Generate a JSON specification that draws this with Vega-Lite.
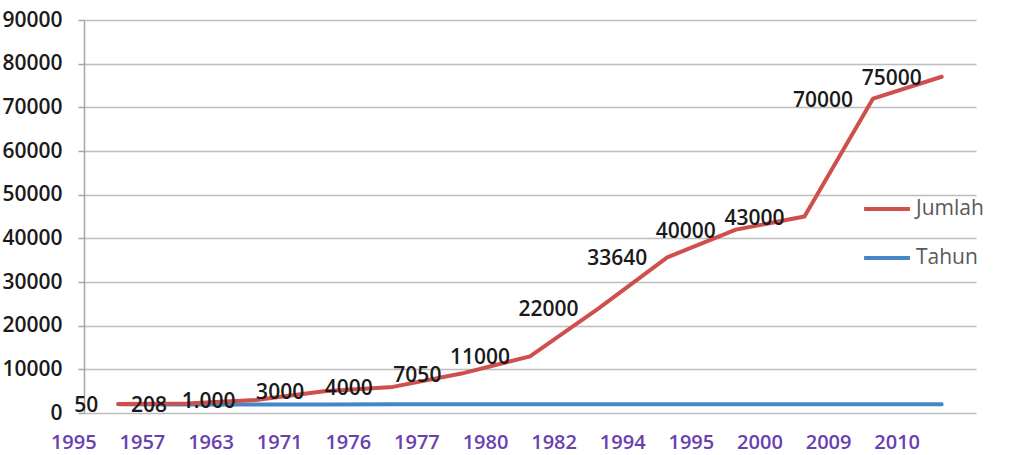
{
  "$schema": "https://vega.github.io/schema/vega-lite/v6.json",
  "width": 892,
  "height": 393,
  "autosize": "none",
  "padding": {"left": 84, "top": 20, "right": 36, "bottom": 42},
  "background": "white",
  "config": {"view": {"stroke": null}},
  "data": {
    "values": [
      {"Kategori": "1995", "Tahun": 1995, "Jumlah": 50, "Label": "50"},
      {"Kategori": "1957", "Tahun": 1957, "Jumlah": 208, "Label": "208"},
      {"Kategori": "1963", "Tahun": 1963, "Jumlah": 1000, "Label": "1.000"},
      {"Kategori": "1971", "Tahun": 1971, "Jumlah": 3000, "Label": "3000"},
      {"Kategori": "1976", "Tahun": 1976, "Jumlah": 4000, "Label": "4000"},
      {"Kategori": "1977", "Tahun": 1977, "Jumlah": 7050, "Label": "7050"},
      {"Kategori": "1980", "Tahun": 1980, "Jumlah": 11000, "Label": "11000"},
      {"Kategori": "1982", "Tahun": 1982, "Jumlah": 22000, "Label": "22000"},
      {"Kategori": "1994", "Tahun": 1994, "Jumlah": 33640, "Label": "33640"},
      {"Kategori": "1995 ", "Tahun": 1995, "Jumlah": 40000, "Label": "40000"},
      {"Kategori": "2000", "Tahun": 2000, "Jumlah": 43000, "Label": "43000"},
      {"Kategori": "2009", "Tahun": 2009, "Jumlah": 70000, "Label": "70000"},
      {"Kategori": "2010", "Tahun": 2010, "Jumlah": 75000, "Label": "75000"}
    ]
  },
  "transform": [
    {"fold": ["Tahun", "Jumlah"], "as": ["Seri", "Nilai"]},
    {"stack": "Nilai", "groupby": ["Kategori"], "sort": [{"field": "Seri", "order": "descending"}], "as": ["y0", "y1"]}
  ],
  "encoding": {
    "x": {
      "field": "Kategori",
      "type": "ordinal",
      "sort": null,
      "axis": {
        "title": null,
        "labelAngle": 0,
        "ticks": false,
        "domain": false,
        "grid": false,
        "labelOffset": -45,
        "labelPadding": 19,
        "labelColor": "#6a40b0",
        "labelFont": "Open Sans",
        "labelFontSize": 20,
        "labelFontWeight": 600,
        "labelBaseline": "top",
        "labelOverlap": false,
        "labelBound": false
      }
    },
    "y": {
      "field": "y1",
      "type": "quantitative",
      "scale": {"domain": [0, 90000], "nice": false},
      "axis": {
        "title": null,
        "format": "d",
        "values": [0, 10000, 20000, 30000, 40000, 50000, 60000, 70000, 80000, 90000],
        "tickSize": 6,
        "tickColor": "#a6a6a6",
        "tickWidth": 1.5,
        "domainColor": "#a6a6a6",
        "domainWidth": 1.5,
        "gridColor": "#bdbdbd",
        "gridWidth": 1.5,
        "labelPadding": 16,
        "labelFont": "Open Sans",
        "labelFontSize": 21,
        "labelFontWeight": 600,
        "labelColor": "#1a1a1a",
        "labelFlush": false,
        "labelOverlap": false
      }
    }
  },
  "layer": [
    {
      "mark": {"type": "line", "strokeWidth": 4, "strokeCap": "round", "strokeJoin": "round"},
      "encoding": {
        "color": {
          "field": "Seri",
          "type": "nominal",
          "scale": {"domain": ["Jumlah", "Tahun"], "range": ["#cf4f4c", "#4586c6"]},
          "legend": {
            "orient": "none",
            "legendX": 778,
            "legendY": 164,
            "title": null,
            "symbolType": "stroke",
            "symbolSize": 2100,
            "symbolStrokeWidth": 4,
            "labelFont": "Open Sans",
            "labelFontSize": 21,
            "labelColor": "#595959",
            "labelOffset": 4,
            "rowPadding": 14
          }
        }
      }
    },
    {
      "transform": [{"filter": "datum.Seri === 'Jumlah'"}],
      "mark": {"type": "text", "align": "right", "baseline": "middle", "dx": -20, "dy": 2, "font": "Open Sans", "fontSize": 21, "fontWeight": 600, "color": "#1a1a1a"},
      "encoding": {
        "text": {"field": "Label"}
      }
    }
  ]
}
